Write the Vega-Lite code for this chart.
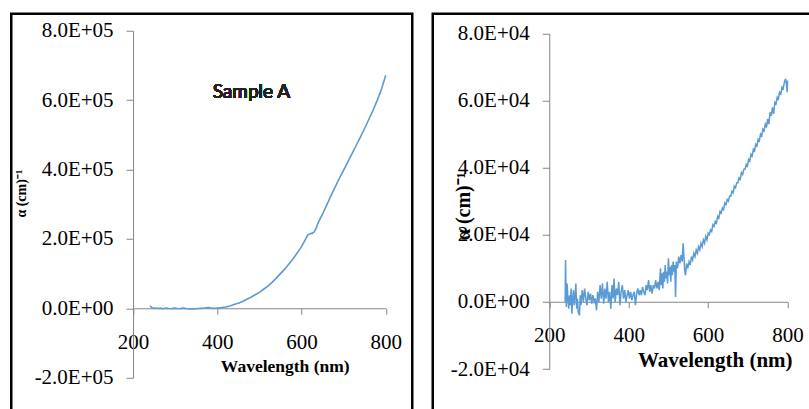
{
  "$schema": "https://vega.github.io/schema/vega-lite/v6.json",
  "padding": {"left": 9.25, "top": 11.75, "right": -7, "bottom": -6},
  "background": "white",
  "config": {
    "view": {"stroke": "#000000", "strokeWidth": 2.5},
    "axis": {
      "grid": false,
      "domainColor": "#868686",
      "tickColor": "#868686",
      "labelFont": "Liberation Serif",
      "labelColor": "#000000",
      "labelFontSize": 21,
      "labelFlush": false,
      "labelOverlap": false,
      "labelBound": false,
      "titleFont": "Liberation Serif",
      "titleColor": "#000000",
      "titleFontWeight": "bold"
    }
  },
  "datasets": {
    "sampleA": [
      {"w": 240, "a": 7000}, {"w": 245, "a": 2000}, {"w": 250, "a": 0}, {"w": 255, "a": 1000}, {"w": 260, "a": -500},
      {"w": 265, "a": 500}, {"w": 270, "a": -1000}, {"w": 275, "a": 0}, {"w": 280, "a": 500}, {"w": 285, "a": -500},
      {"w": 290, "a": -1000}, {"w": 295, "a": 0}, {"w": 300, "a": 500}, {"w": 305, "a": -500}, {"w": 310, "a": -1000},
      {"w": 315, "a": 0}, {"w": 320, "a": 500}, {"w": 325, "a": -500}, {"w": 330, "a": -1000}, {"w": 335, "a": -1500},
      {"w": 340, "a": -2000}, {"w": 345, "a": -1500}, {"w": 350, "a": -1000}, {"w": 355, "a": -500}, {"w": 360, "a": 0},
      {"w": 365, "a": 500}, {"w": 370, "a": 1000}, {"w": 375, "a": 1500}, {"w": 380, "a": 2000}, {"w": 385, "a": 1000},
      {"w": 390, "a": 0}, {"w": 395, "a": 500}, {"w": 400, "a": 1000}, {"w": 405, "a": 1500}, {"w": 410, "a": 2000},
      {"w": 415, "a": 3000}, {"w": 420, "a": 4000}, {"w": 425, "a": 5500}, {"w": 430, "a": 7000}, {"w": 435, "a": 9000},
      {"w": 440, "a": 11000}, {"w": 445, "a": 13000}, {"w": 450, "a": 15000}, {"w": 460, "a": 20000}, {"w": 470, "a": 26000},
      {"w": 480, "a": 32000}, {"w": 490, "a": 39000}, {"w": 500, "a": 46000}, {"w": 510, "a": 55000}, {"w": 520, "a": 64000},
      {"w": 530, "a": 75000}, {"w": 540, "a": 87000}, {"w": 550, "a": 100000}, {"w": 560, "a": 113000}, {"w": 570, "a": 128000},
      {"w": 580, "a": 143000}, {"w": 590, "a": 160000}, {"w": 600, "a": 178000}, {"w": 610, "a": 200000}, {"w": 615, "a": 212000},
      {"w": 620, "a": 215000}, {"w": 625, "a": 216000}, {"w": 630, "a": 220000}, {"w": 635, "a": 232000}, {"w": 640, "a": 248000},
      {"w": 650, "a": 272000}, {"w": 660, "a": 298000}, {"w": 670, "a": 325000}, {"w": 680, "a": 350000}, {"w": 690, "a": 375000},
      {"w": 700, "a": 398000}, {"w": 710, "a": 422000}, {"w": 720, "a": 446000}, {"w": 730, "a": 470000}, {"w": 740, "a": 494000},
      {"w": 750, "a": 519000}, {"w": 760, "a": 545000}, {"w": 770, "a": 571000}, {"w": 780, "a": 600000}, {"w": 790, "a": 632000},
      {"w": 800, "a": 672000}
    ],
    "sampleB": [
      {"w": 240, "a": 0}, {"w": 241, "a": 12500}, {"w": 242, "a": 5000}, {"w": 243, "a": -1500}, {"w": 245, "a": 5500},
      {"w": 247, "a": 1000}, {"w": 249, "a": -2000}, {"w": 251, "a": 2000}, {"w": 253, "a": -1000}, {"w": 255, "a": 4000},
      {"w": 257, "a": -3500}, {"w": 259, "a": 1000}, {"w": 261, "a": 3500}, {"w": 263, "a": -1000}, {"w": 265, "a": 2000},
      {"w": 267, "a": 5500}, {"w": 269, "a": -2000}, {"w": 271, "a": 1000}, {"w": 273, "a": -3000}, {"w": 276, "a": -4000},
      {"w": 278, "a": 2000}, {"w": 280, "a": -1000}, {"w": 283, "a": 3500}, {"w": 286, "a": 0}, {"w": 289, "a": 4000},
      {"w": 292, "a": 1000}, {"w": 295, "a": -1000}, {"w": 298, "a": 3000}, {"w": 301, "a": 500}, {"w": 304, "a": 2500},
      {"w": 307, "a": -500}, {"w": 310, "a": 2000}, {"w": 313, "a": 0}, {"w": 316, "a": 1000}, {"w": 319, "a": -2500},
      {"w": 322, "a": 3000}, {"w": 325, "a": 0}, {"w": 328, "a": 5000}, {"w": 331, "a": 1000}, {"w": 334, "a": 5500},
      {"w": 337, "a": -500}, {"w": 340, "a": 4000}, {"w": 343, "a": 1000}, {"w": 346, "a": 6000}, {"w": 349, "a": 0},
      {"w": 352, "a": 3000}, {"w": 355, "a": -2000}, {"w": 358, "a": 5000}, {"w": 361, "a": 1000}, {"w": 363, "a": 7000},
      {"w": 366, "a": 0}, {"w": 369, "a": 4000}, {"w": 372, "a": 2000}, {"w": 375, "a": 6000}, {"w": 378, "a": -1000},
      {"w": 381, "a": 3000}, {"w": 384, "a": 5000}, {"w": 387, "a": 1000}, {"w": 390, "a": 3500}, {"w": 393, "a": 0},
      {"w": 396, "a": 2000}, {"w": 399, "a": 3500}, {"w": 402, "a": 1000}, {"w": 405, "a": 3000}, {"w": 408, "a": 500},
      {"w": 411, "a": 2000}, {"w": 414, "a": 3000}, {"w": 417, "a": -1000}, {"w": 420, "a": 2500}, {"w": 423, "a": 4000},
      {"w": 426, "a": 2000}, {"w": 429, "a": 3500}, {"w": 432, "a": 2000}, {"w": 435, "a": 4500}, {"w": 438, "a": 3000},
      {"w": 441, "a": 2000}, {"w": 444, "a": 5000}, {"w": 447, "a": 3500}, {"w": 450, "a": 6500}, {"w": 453, "a": 3000},
      {"w": 456, "a": 5000}, {"w": 459, "a": 2500}, {"w": 462, "a": 5000}, {"w": 465, "a": 4000}, {"w": 468, "a": 6500},
      {"w": 471, "a": 4000}, {"w": 474, "a": 6000}, {"w": 477, "a": 3500}, {"w": 480, "a": 10000}, {"w": 482, "a": 5000},
      {"w": 484, "a": 8500}, {"w": 486, "a": 4000}, {"w": 488, "a": 9000}, {"w": 490, "a": 6000}, {"w": 492, "a": 11000},
      {"w": 494, "a": 7000}, {"w": 496, "a": 9000}, {"w": 498, "a": 5500}, {"w": 500, "a": 13000}, {"w": 502, "a": 8000},
      {"w": 504, "a": 10500}, {"w": 506, "a": 6000}, {"w": 508, "a": 11000}, {"w": 510, "a": 8000}, {"w": 512, "a": 12000},
      {"w": 514, "a": 9000}, {"w": 516, "a": 11000}, {"w": 518, "a": 1500}, {"w": 520, "a": 12000}, {"w": 523, "a": 10000},
      {"w": 526, "a": 13500}, {"w": 529, "a": 11500}, {"w": 532, "a": 14000}, {"w": 535, "a": 12000}, {"w": 537, "a": 17500},
      {"w": 539, "a": 14000}, {"w": 541, "a": 9500}, {"w": 543, "a": 8000}, {"w": 546, "a": 11500}, {"w": 549, "a": 10000},
      {"w": 552, "a": 12000}, {"w": 555, "a": 11000}, {"w": 558, "a": 13500}, {"w": 561, "a": 12500}, {"w": 564, "a": 14500},
      {"w": 567, "a": 13500}, {"w": 570, "a": 15500}, {"w": 573, "a": 14500}, {"w": 576, "a": 16500}, {"w": 579, "a": 15500},
      {"w": 582, "a": 17500}, {"w": 585, "a": 16500}, {"w": 588, "a": 18500}, {"w": 591, "a": 17500}, {"w": 594, "a": 19500},
      {"w": 597, "a": 18500}, {"w": 600, "a": 20500}, {"w": 603, "a": 20000}, {"w": 606, "a": 21500}, {"w": 609, "a": 21000},
      {"w": 612, "a": 23000}, {"w": 615, "a": 22500}, {"w": 618, "a": 24000}, {"w": 621, "a": 23500}, {"w": 624, "a": 25500},
      {"w": 627, "a": 25000}, {"w": 630, "a": 27000}, {"w": 633, "a": 26500}, {"w": 636, "a": 28000}, {"w": 639, "a": 27500},
      {"w": 642, "a": 29500}, {"w": 645, "a": 29000}, {"w": 648, "a": 30500}, {"w": 651, "a": 30000}, {"w": 654, "a": 31500},
      {"w": 657, "a": 31500}, {"w": 660, "a": 33000}, {"w": 663, "a": 32500}, {"w": 666, "a": 34500}, {"w": 669, "a": 34000},
      {"w": 672, "a": 35500}, {"w": 675, "a": 35500}, {"w": 678, "a": 37000}, {"w": 681, "a": 36500}, {"w": 684, "a": 38500},
      {"w": 687, "a": 38000}, {"w": 690, "a": 39500}, {"w": 693, "a": 39500}, {"w": 696, "a": 41000}, {"w": 699, "a": 40500},
      {"w": 702, "a": 42500}, {"w": 705, "a": 42000}, {"w": 708, "a": 44000}, {"w": 711, "a": 43500}, {"w": 714, "a": 45500},
      {"w": 717, "a": 45000}, {"w": 720, "a": 47000}, {"w": 723, "a": 46500}, {"w": 726, "a": 48500}, {"w": 729, "a": 48000},
      {"w": 732, "a": 50000}, {"w": 735, "a": 49500}, {"w": 738, "a": 51500}, {"w": 741, "a": 51000}, {"w": 744, "a": 53000},
      {"w": 747, "a": 52000}, {"w": 750, "a": 54500}, {"w": 753, "a": 53000}, {"w": 756, "a": 56500}, {"w": 759, "a": 55500},
      {"w": 762, "a": 58000}, {"w": 765, "a": 56000}, {"w": 768, "a": 59500}, {"w": 771, "a": 59000}, {"w": 774, "a": 61000},
      {"w": 777, "a": 60500}, {"w": 780, "a": 62500}, {"w": 783, "a": 62000}, {"w": 786, "a": 64000}, {"w": 789, "a": 63500},
      {"w": 792, "a": 65500}, {"w": 795, "a": 66500}, {"w": 797, "a": 65000}, {"w": 799, "a": 62500}, {"w": 800, "a": 66000}
    ]
  },
  "spacing": 16.5,
  "hconcat": [
    {
      "width": 401,
      "height": 400,
      "data": {"name": "sampleA"},
      "layer": [
        {
          "mark": {"type": "line", "color": "#5B9BD5", "strokeWidth": 1.6},
          "encoding": {
            "x": {
              "field": "w", "type": "quantitative",
              "scale": {"domain": [200, 800], "range": [121.8, 374.5], "nice": false, "zero": false},
              "axis": {
                "values": [200, 400, 600, 800], "offset": -105.5, "tickSize": 6, "labelPadding": 17,
                "title": "Wavelength (nm)", "titleFontSize": 17.5, "titleX": 273.5, "titleY": 63.7,
                "titleAlign": "center", "titleBaseline": "alphabetic", "titleAnchor": null
              }
            },
            "y": {
              "field": "a", "type": "quantitative",
              "scale": {"domain": [-200000, 800000], "range": [364, 17], "nice": false, "zero": false},
              "axis": {
                "values": [-200000, 0, 200000, 400000, 600000, 800000], "offset": -121.8, "tickSize": 7, "labelPadding": 13,
                "labelExpr": "datum.value == 0 ? '0.0E+00' : (datum.value < 0 ? '-' : '') + format(abs(datum.value) / 100000, '.1f') + 'E+05'",
                "title": "α (cm)⁻¹", "titleFontSize": 14, "titleX": -111.3, "titleY": 179.5,
                "titleAngle": 270, "titleAlign": "center", "titleBaseline": "middle", "titleAnchor": null
              }
            }
          }
        },
        {
          "mark": {"type": "text", "font": "Lato", "fontSize": 19, "color": "#222222", "align": "left", "baseline": "alphabetic"},
          "encoding": {
            "x": {"datum": 389, "type": "quantitative"},
            "y": {"datum": 606000, "type": "quantitative"},
            "text": {"value": "Sample A"}
          }
        }
      ]
    },
    {
      "width": 385,
      "height": 400,
      "data": {"name": "sampleB"},
      "mark": {"type": "line", "color": "#5B9BD5", "strokeWidth": 1.5},
      "encoding": {
        "x": {
          "field": "w", "type": "quantitative",
          "scale": {"domain": [200, 800], "range": [116.5, 354.8], "nice": false, "zero": false},
          "axis": {
            "values": [200, 400, 600, 800], "offset": -112, "tickSize": 6, "labelPadding": 17,
            "title": "Wavelength (nm)", "titleFontSize": 21, "titleX": 282, "titleY": 65,
            "titleAlign": "center", "titleBaseline": "alphabetic", "titleAnchor": null
          }
        },
        "y": {
          "field": "a", "type": "quantitative",
          "scale": {"domain": [-20000, 80000], "range": [355.3, 19.7], "nice": false, "zero": false},
          "axis": {
            "values": [-20000, 0, 20000, 40000, 60000, 80000], "offset": -116.5, "tickSize": 7, "labelPadding": 13,
            "labelExpr": "datum.value == 0 ? '0.0E+00' : (datum.value < 0 ? '-' : '') + format(abs(datum.value) / 10000, '.1f') + 'E+04'",
            "title": "α (cm)⁻¹", "titleFontSize": 20, "titleX": -86, "titleY": 192,
            "titleAngle": 270, "titleAlign": "center", "titleBaseline": "middle", "titleAnchor": null
          }
        }
      }
    }
  ]
}
